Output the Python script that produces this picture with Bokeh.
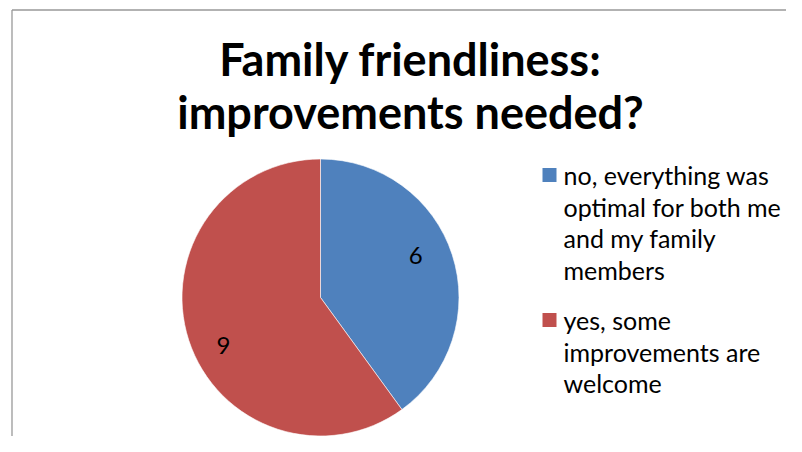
import math
from bokeh.plotting import figure
from bokeh.models import Range1d, ColumnDataSource
from bokeh.core.properties import value
from bokeh.embed import file_html
from bokeh.resources import INLINE

title_lines = ["Family friendliness:", "improvements needed?"]
categories = ["no, everything was optimal for both me and my family members",
              "yes, some improvements are welcome"]
legend_lines = [["no, everything was", "optimal for both me", "and my family", "members"],
                ["yes, some", "improvements are", "welcome"]]
counts = [6, 9]
colors = ["#4F81BD", "#C0504D"]

W, H = 786, 436
FONT = "Lato"

p = figure(width=W, height=H, output_backend="svg", toolbar_location=None,
           x_range=Range1d(0, W), y_range=Range1d(0, H), min_border=0)
p.axis.visible = False
p.grid.visible = False
p.outline_line_color = None
p.background_fill_color = "white"


def Y(img_y):
    return H - img_y


def X(img_x):
    return img_x


# chart area border (left and top edges only)
p.multi_line(xs=[[X(11.5), X(11.5)], [X(11.5), X(900)]],
             ys=[[Y(900), Y(9.5)], [Y(9.5), Y(9.5)]],
             line_color="#999999", line_width=1.3)

# pie
cx, cy, R = X(320), Y(297), 138.5
total = sum(counts)
label_r = 0.76
label_dx = [-5, 3]
label_dy = [9, -15]
starts, ends, lx, ly = [], [], [], []
acc = 0.0
for i, c in enumerate(counts):
    a0 = math.pi / 2 - 2 * math.pi * acc / total
    acc += c
    a1 = math.pi / 2 - 2 * math.pi * acc / total
    starts.append(a1)
    ends.append(a0)
    mid = (a0 + a1) / 2
    lx.append(cx + label_r * R * math.cos(mid) + label_dx[i])
    ly.append(cy + label_r * R * math.sin(mid) + label_dy[i])

src = ColumnDataSource(dict(x=[cx] * len(counts), y=[cy] * len(counts),
                            start=starts, end=ends, color=colors,
                            lx=lx, ly=ly, lab=[str(c) for c in counts]))
p.wedge(x="x", y="y", radius=R, radius_units="screen", start_angle="start",
        end_angle="end", fill_color="color", line_color="white", line_width=0.6,
        source=src)
p.text(x="lx", y="ly", text="lab", source=src, text_font=value(FONT),
       text_font_size="24px", text_align="center", text_baseline="middle",
       text_color="black")

# title (middle of cap height)
p.text(x=[X(410), X(410)], y=[Y(58.5), Y(111.5)], text=title_lines,
       text_font=value(FONT), text_font_style="bold", text_font_size="45px",
       text_align="center", text_baseline="middle", text_color="black")

# legend
sq_y = [Y(174.5), Y(319.5)]
p.rect(x=[X(549)] * 2, y=sq_y, width=14, height=14, width_units="screen",
       height_units="screen", fill_color=colors, line_color=None)
tx, ty, tt = [], [], []
base = [174.5, 319.5]
for i, lines in enumerate(legend_lines):
    for j, s in enumerate(lines):
        tx.append(X(563))
        ty.append(Y(base[i] + 31.7 * j))
        tt.append(s)
p.text(x=tx, y=ty, text=tt, text_font=value(FONT), text_font_size="25px",
       text_align="left", text_baseline="middle", text_color="black")

open("out.html", "w").write(file_html(p, INLINE))
